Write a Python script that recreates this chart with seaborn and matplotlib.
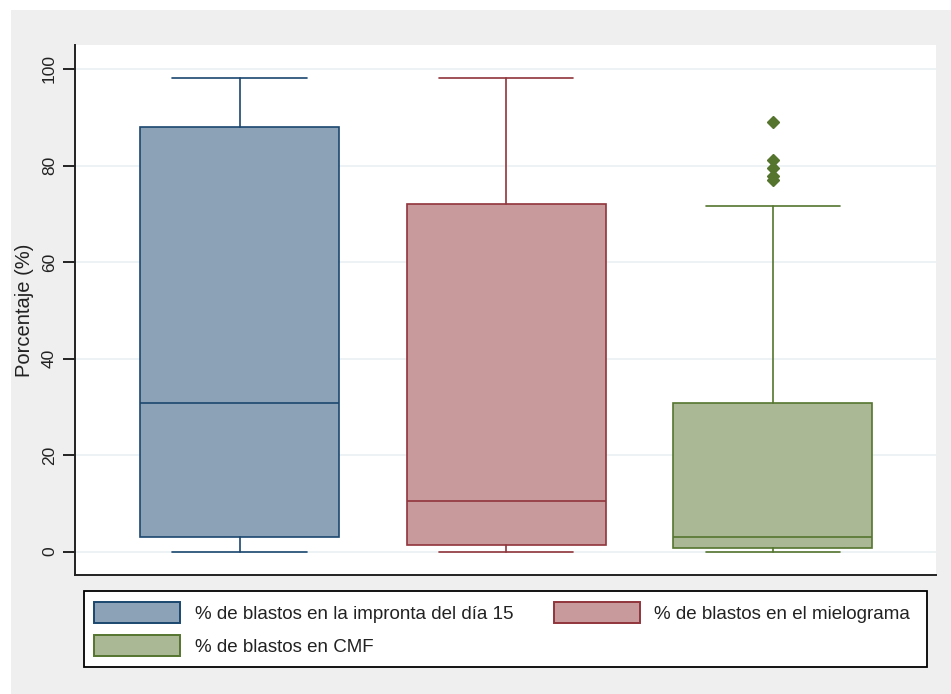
import matplotlib
matplotlib.use("Agg")
import matplotlib.pyplot as plt
from matplotlib.patches import Patch, Rectangle
import seaborn as sns

# ---- data ----
categories = ["% de blastos en la impronta del día 15",
              "% de blastos en el mielograma",
              "% de blastos en CMF"]
whis_low = [0.0, 0.0, 0.0]
q1 = [3.1, 1.4, 0.7]
medians = [30.7, 10.4, 3.0]
q3 = [88.0, 72.0, 30.9]
whis_high = [98.1, 98.1, 71.6]
outliers = [[], [], [89.0, 81.1, 79.4, 77.8, 77.0]]
yticks = [0, 20, 40, 60, 80, 100]

edge_colors = ["#1A476F", "#90353B", "#55752F"]
fill_colors = ["#8CA2B6", "#C89A9C", "#AAB895"]

sns.set_theme(style="white")
plt.rcParams['font.family'] = ['Liberation Sans', 'DejaVu Sans']

W, H = 951, 694
fig = plt.figure(figsize=(W/100, H/100), dpi=100)
fig.patch.set_facecolor("white")
fig.add_artist(Rectangle((11/W, 0), 1 - 11/W, (H - 10)/H,
                         transform=fig.transFigure, facecolor="#EFEFEF",
                         edgecolor="none", zorder=-10))

ax = fig.add_axes([75/W, (H-575)/H, (936-75)/W, (575-45)/H])
ax.set_facecolor("white")

stats = []
for i, c in enumerate(categories):
    stats.append(dict(label=c, whislo=whis_low[i], q1=q1[i], med=medians[i],
                      q3=q3[i], whishi=whis_high[i], fliers=outliers[i]))

positions = [0, 1, 2]
for i, st in enumerate(stats):
    ec = edge_colors[i]
    ax.bxp([st], positions=[positions[i]], widths=0.747, capwidths=0.503,
           patch_artist=True, showfliers=True,
           boxprops=dict(facecolor=fill_colors[i], edgecolor=ec, linewidth=1.2),
           medianprops=dict(color=ec, linewidth=1.2),
           whiskerprops=dict(color=ec, linewidth=1.2),
           capprops=dict(color=ec, linewidth=1.2),
           flierprops=dict(marker="D", markerfacecolor=ec, markeredgecolor=ec,
                           markersize=6.5, linestyle="none"),
           zorder=3)

ax.set_xlim(-0.617, 2.612)
ax.set_ylim(-4.83, 104.97)
ax.set_xticks([])
ax.set_yticks(yticks)
ax.set_yticklabels([str(t) for t in yticks], rotation=90, va="center", fontsize=12.5)
ax.tick_params(axis="y", direction="out", length=9, width=1.2, color="black",
               left=True, pad=4, labelcolor="#222222")
ax.grid(axis="y", color="#EAF0F2", linewidth=1.2, zorder=0)
ax.set_axisbelow(True)
for side in ["top", "right"]:
    ax.spines[side].set_visible(False)
for side in ["left", "bottom"]:
    ax.spines[side].set_color("#222222")
    ax.spines[side].set_linewidth(1.4)
ax.set_ylabel("Porcentaje (%)", fontsize=14.5, color="#222222", labelpad=6)

# legend frame drawn separately to match the reference box
fig.add_artist(Rectangle((84/W, (H-667)/H), (927-84)/W, (667-591)/H,
                         transform=fig.transFigure, facecolor="white",
                         edgecolor="black", linewidth=1.3, zorder=1))

order = [0, 2, 1]  # row-wise fill: (impronta, mielograma) / (CMF)
handles = [Patch(facecolor=fill_colors[i], edgecolor=edge_colors[i], linewidth=1.4,
                 label=categories[i]) for i in order]
fs = 13.5
px = fs * 100 / 72
leg = fig.legend(handles=handles, ncol=2, loc="upper left",
                 bbox_to_anchor=(94/W, (H-602)/H),
                 fontsize=fs, frameon=False,
                 handlelength=86/px, handleheight=25/px, handletextpad=15/px,
                 columnspacing=40/px, borderpad=0, labelspacing=12/px,
                 borderaxespad=0)
leg.set_zorder(2)
for t in leg.get_texts():
    t.set_color("#222222")

fig.savefig("out.png", dpi=100, facecolor=fig.get_facecolor())
